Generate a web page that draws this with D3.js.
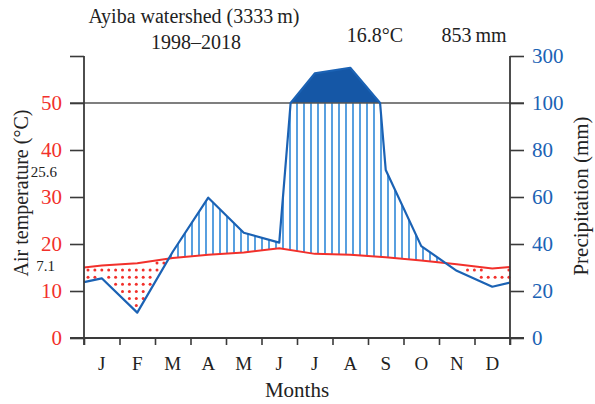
<!DOCTYPE html>
<html><head><meta charset="utf-8">
<script src="https://cdn.jsdelivr.net/npm/d3@7/dist/d3.min.js"></script>
<style>html,body{margin:0;padding:0;background:#fff;}svg{display:block;}</style>
</head><body>
<script>
// ---- data ----
const months = ["J","F","M","A","M","J","J","A","S","O","N","D"];
const temperature = [15.4,15.9,17.0,17.7,18.2,19.1,17.9,17.7,17.2,16.5,15.7,14.8]; // °C
const precipitation = [25.4,10.8,36.7,59.7,44.8,40.6,226,250,71.5,39.1,28.6,21.8]; // mm
const temperatureEdges = [15.0,15.1];   // value at start / end of year
const precipitationEdges = [23.8,23.6];
const tempTicks = [0,10,20,30,40,50,60];
const precipTicks = [0,20,40,60,80,100,300];
const titleLines = ["Ayiba watershed (3333\u2009m)","1998\u20132018"];
const meanTemp = "16.8°C", totalPrecip = "853\u2009mm";
const maxTempLabel = "25.6", minTempLabel = "7.1";

// ---- layout ----
const W=595,H=404;
const L=84,R=510,B=338,T=56;
const red="#f2302b", blue="#1b62b4", hatch="#2f88d8", dark="#1557a6", axisC="#3a3a3a";
const serif="'Liberation Serif','Times New Roman',serif";

const svg=d3.select("body").append("svg").attr("width",W).attr("height",H)
  .style("font-family",serif);

const x=d3.scaleLinear().domain([0,12]).range([L,R]);
const yT=d3.scaleLinear().domain([0,60]).range([B,T]);
const yP=d3.scaleLinear().domain([0,100,300]).range([B,yT(50),T]);

// points: month centres plus year edges
const tPts=[[0,temperatureEdges[0]],...temperature.map((v,i)=>[i+0.5,v]),[12,temperatureEdges[1]]];
const pPts=[[0,precipitationEdges[0]],...precipitation.map((v,i)=>[i+0.5,v]),[12,precipitationEdges[1]]];
// insert crossings of 100 mm so the piecewise scale is linear on every piece
const pFull=[];
for(let i=0;i<pPts.length;i++){
  if(i>0){
    const a=pPts[i-1],b=pPts[i];
    if((a[1]-100)*(b[1]-100)<0){
      const f=(100-a[1])/(b[1]-a[1]);
      pFull.push([a[0]+f*(b[0]-a[0]),100]);
    }
  }
  pFull.push(pPts[i]);
}
function interp(pts,m){
  for(let i=1;i<pts.length;i++){
    if(m<=pts[i][0]){const a=pts[i-1],b=pts[i];const f=(m-a[0])/(b[0]-a[0]);return a[1]+f*(b[1]-a[1]);}
  }
  return pts[pts.length-1][1];
}

// humid hatch
const gH=svg.append("g");
for(let px=L+3;px<R;px+=7){
  const m=x.invert(px);
  const t=interp(tPts,m), p=interp(pFull,m);
  if(p>2*t){
    gH.append("line").attr("x1",px).attr("x2",px)
      .attr("y1",yT(t)).attr("y2",yP(Math.min(p,100)))
      .attr("stroke",hatch).attr("stroke-width",1.6);
  }
}
// dry dots
const gD=svg.append("g");
for(let px=L+4;px<R;px+=6.9){
  const m=x.invert(px);
  const t=interp(tPts,m), p=interp(pFull,m);
  if(p<2*t){
    const yt=yT(t), yp=yP(p);
    for(let py=263;py<B;py+=7.1){
      if(py>yt+2.5 && py<yp-2.5){
        gD.append("circle").attr("cx",px).attr("cy",py).attr("r",1.5).attr("fill",red);
      }
    }
  }
}
// wet (>100 mm) fill
const areaPts=pFull.filter(d=>d[1]>=100);
svg.append("path")
  .datum(areaPts)
  .attr("d",d3.area().x(d=>x(d[0])).y0(yP(100)).y1(d=>yP(d[1])))
  .attr("fill",dark);

// gridline at 50/100
svg.append("line").attr("x1",L-14).attr("x2",R+14).attr("y1",yT(50)).attr("y2",yT(50))
  .attr("stroke","#555").attr("stroke-width",1.3);

// lines
svg.append("path").datum(tPts)
  .attr("d",d3.line().x(d=>x(d[0])).y(d=>yT(d[1])))
  .attr("fill","none").attr("stroke",red).attr("stroke-width",2);
svg.append("path").datum(pFull)
  .attr("d",d3.line().x(d=>x(d[0])).y(d=>yP(d[1])))
  .attr("fill","none").attr("stroke",blue).attr("stroke-width",2.2).attr("stroke-linejoin","round");

// axes
const left=svg.append("g").attr("transform",`translate(${L},0)`)
  .call(d3.axisLeft(yT).tickValues(tempTicks).tickSize(14).tickPadding(8).tickFormat(d=>d===60?"":d));
const right=svg.append("g").attr("transform",`translate(${R},0)`)
  .call(d3.axisRight(yP).tickValues(precipTicks).tickSize(14).tickPadding(8));
const bottom=svg.append("g").attr("transform",`translate(0,${B})`)
  .call(d3.axisBottom(x).tickValues(d3.range(0,13)).tickSize(7).tickFormat(""));
[left,right,bottom].forEach(g=>{
  g.select(".domain").remove();
  g.selectAll(".tick line").attr("stroke",axisC).attr("stroke-width",1.6);
  g.selectAll("text").style("font-family",serif).style("font-size","21px");
});
left.selectAll("text").attr("fill",red);
right.selectAll("text").attr("fill",blue);
// axis lines
svg.append("line").attr("x1",L).attr("x2",L).attr("y1",T).attr("y2",B+7).attr("stroke",axisC).attr("stroke-width",1.8);
svg.append("line").attr("x1",R).attr("x2",R).attr("y1",T).attr("y2",B+7).attr("stroke",axisC).attr("stroke-width",1.8);
svg.append("line").attr("x1",L-14).attr("x2",R+14).attr("y1",B).attr("y2",B).attr("stroke",axisC).attr("stroke-width",1.8);

// month labels
svg.append("g").selectAll("text").data(months).join("text")
  .attr("x",(d,i)=>x(i+0.5)).attr("y",370).attr("text-anchor","middle")
  .style("font-size","19px").attr("fill","#222").text(d=>d);

// titles
svg.append("text").attr("x",(L+R)/2).attr("y",397).attr("text-anchor","middle")
  .style("font-size","21px").attr("fill","#222").text("Months");
svg.append("text").attr("transform",`translate(28,193) rotate(-90)`).attr("text-anchor","middle")
  .style("font-size","20px").attr("fill","#222").text("Air temperature (°C)");
svg.append("text").attr("transform",`translate(588,196) rotate(-90)`).attr("text-anchor","middle")
  .style("font-size","21px").attr("fill","#222").text("Precipitation (mm)");

svg.append("text").attr("x",194).attr("y",22.5).attr("text-anchor","middle")
  .style("font-size","20px").attr("fill","#222").text(titleLines[0]);
svg.append("text").attr("x",196).attr("y",48.5).attr("text-anchor","middle")
  .style("font-size","20px").attr("fill","#222").text(titleLines[1]);
svg.append("text").attr("x",375).attr("y",41.5).attr("text-anchor","middle")
  .style("font-size","20px").attr("fill","#222").text(meanTemp);
svg.append("text").attr("x",474).attr("y",41.5).attr("text-anchor","middle")
  .style("font-size","20px").attr("fill","#222").text(totalPrecip);
svg.append("text").attr("x",57).attr("y",177).attr("text-anchor","end")
  .style("font-size","15px").attr("fill","#222").text(maxTempLabel);
svg.append("text").attr("x",55).attr("y",271).attr("text-anchor","end")
  .style("font-size","15px").attr("fill","#222").text(minTempLabel);
</script>
</body></html>
